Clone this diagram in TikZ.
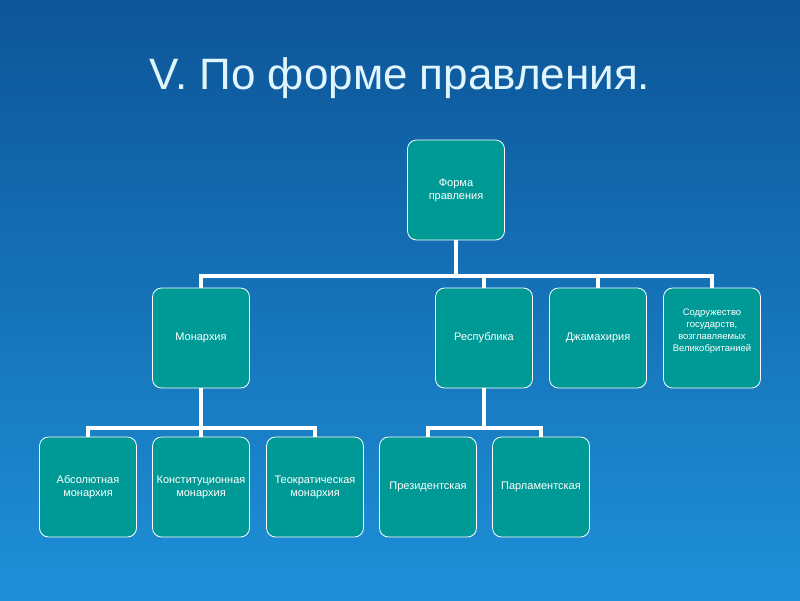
\documentclass[tikz,border=0pt]{standalone}
\usepackage{fontspec}
\setmainfont{Liberation Sans}
\definecolor{bgt}{HTML}{0D5598}
\definecolor{bgb}{HTML}{1E90D8}
\definecolor{tl}{HTML}{009A96}
\begin{document}
\begin{tikzpicture}[x=1pt,y=-1pt,
 box/.style={draw=white,line width=0.8pt,fill=tl,rounded corners=9pt,minimum width=97pt,minimum height=100pt,text=white,font=\fontsize{11}{13}\selectfont,align=center,inner sep=1pt},
 con/.style={draw=white,line width=3.5pt}]
\useasboundingbox (0,0) rectangle (800,600);
\shade[top color=bgt,bottom color=bgb] (0,0) rectangle (800,600);
\node[text=cyan!12!white,font=\fontsize{44}{50}\selectfont] (t) at (400,78) {V. По форме правления.};
\node[box] (f) at (456,190) {Форма\\правления};
\node[box] (m) at (201,338) {Монархия};
\node[box] (r) at (484,338) {Республика};
\node[box] (d) at (598,338) {Джамахирия};
\node[box] (s) at (712,338) {};
\node[text=white,font=\fontsize{9.5}{12}\selectfont,align=center] (sl) at (712,331) {Содружество\\государств,\\возглавляемых\\Великобританией};
\node[box] (a) at (88,487) {Абсолютная\\монархия};
\node[box] (k) at (201,487) {Конституционная\\монархия};
\node[box] (te) at (315,487) {Теократическая\\монархия};
\node[box] (p) at (428,487) {Президентская};
\node[box] (pa) at (541,487) {Парламентская};
\draw[con] (f.south) |- (201,276) -- (m.north);
\draw[con] (f.south) |- (712,276) -- (s.north);
\draw[con] (r.north) -- (484,276);
\draw[con] (d.north) -- (598,276);
\draw[con] (m.south) |- (88,428) -- (a.north);
\draw[con] (m.south) |- (315,428) -- (te.north);
\draw[con] (k.north) -- (201,428);
\draw[con] (r.south) |- (428,428) -- (p.north);
\draw[con] (r.south) |- (541,428) -- (pa.north);
\end{tikzpicture}
\end{document}
